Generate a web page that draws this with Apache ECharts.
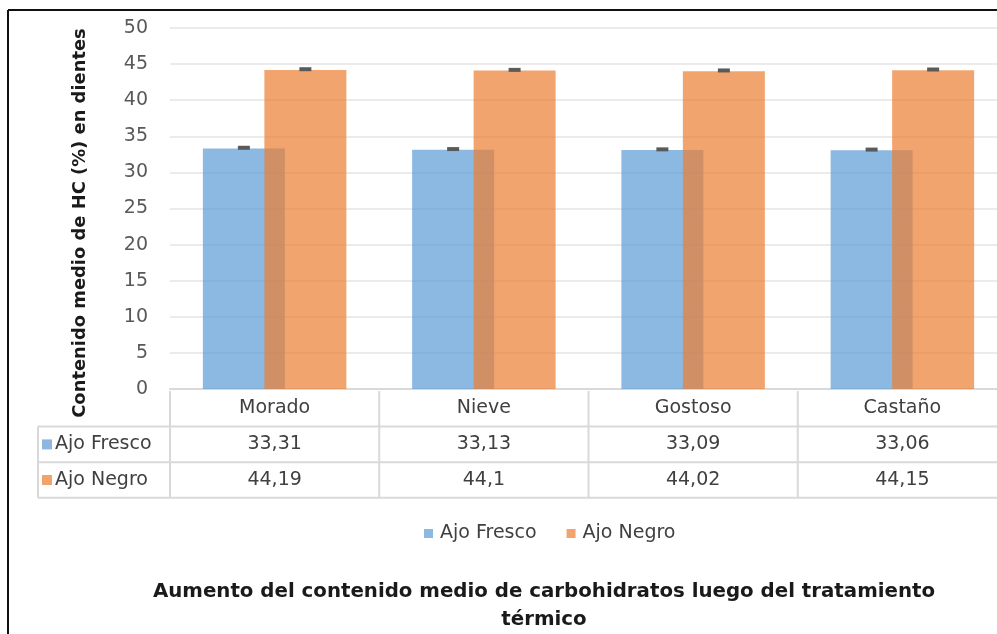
<!DOCTYPE html>
<html><head><meta charset="utf-8">
<script src="https://cdn.jsdelivr.net/npm/echarts@6/dist/echarts.min.js"></script>
<style>html,body{margin:0;padding:0;background:#fff}#c{width:997px;height:634px}</style>
</head><body><div id="c"></div>
<script>
// ---- data ----
const categories = ['Morado', 'Nieve', 'Gostoso', 'Castaño'];
const seriesNames = ['Ajo Fresco', 'Ajo Negro'];
const ajoFresco = [33.31, 33.13, 33.09, 33.06];
const ajoNegro = [44.19, 44.1, 44.02, 44.15];
const errFresco = [0.1, 0.1, 0.1, 0.1];
const errNegro = [0.1, 0.1, 0.1, 0.1];
const yMin = 0, yMax = 50, yStep = 5;
const yTitle = 'Contenido medio de HC (%) en dientes';
const chartTitle = 'Aumento del contenido medio de carbohidratos luego del tratamiento\ntérmico';

// ---- styles ----
const FONT = '"DejaVu Sans", Verdana, sans-serif';
const FS = 19;
const colFresco = 'rgba(91,155,213,0.7)';
const colNegro = 'rgba(237,125,49,0.7)';
const solidFresco = '#8DB7E1';
const solidNegro = '#F1A36C';
const BAR_W = 82;
const OVERLAP = 0.25;

const chart = echarts.init(document.getElementById('c'), null, {renderer: 'canvas'});

function capSeries(name, vals, errs, sign) {
  return {
    name: name, type: 'custom', z: 5,
    data: categories.map((c, i) => [i, vals[i], errs[i]]),
    encode: {x: 0, y: 1},
    renderItem: function (params, api) {
      const p = api.coord([api.value(0), api.value(1) + api.value(2)]);
      const off = sign * (BAR_W * (1 - OVERLAP)) / 2;
      return {type: 'rect', shape: {x: p[0] + off - 6, y: p[1] - 2, width: 12, height: 4},
              style: {fill: '#5a5a5a'}};
    },
    tooltip: {show: false}
  };
}

const option = {
  animation: false,
  backgroundColor: '#fff',
  title: {
    text: chartTitle, left: 539, top: 573, textAlign: 'center',
    textStyle: {fontFamily: FONT, fontSize: 19.8, fontWeight: 'bold', color: '#1a1a1a', lineHeight: 28}
  },
  legend: {
    data: seriesNames, left: 419, top: 519, icon: 'rect', itemWidth: 9, itemHeight: 9, itemGap: 30,
    textStyle: {fontFamily: FONT, fontSize: 19, color: '#404040', padding: [0, 0, 0, 2]}
  },
  grid: {left: 170, width: 837, top: 28, bottom: 245, containLabel: false, outerBoundsMode: 'none'},
  xAxis: {
    type: 'category', data: categories,
    axisLine: {show: true, lineStyle: {color: '#D9D9D9', width: 2}},
    axisTick: {show: false},
    axisLabel: {fontFamily: FONT, fontSize: FS, color: '#404040', margin: 10}
  },
  yAxis: {
    type: 'value', min: yMin, max: yMax, interval: yStep,
    axisLine: {show: false}, axisTick: {show: false},
    axisLabel: {fontFamily: FONT, fontSize: FS, color: '#595959', margin: 22},
    splitLine: {lineStyle: {color: '#EBEBEB', width: 2}}
  },
  series: [
    {name: seriesNames[0], type: 'bar', data: ajoFresco, barWidth: BAR_W, barGap: '-25%',
     itemStyle: {color: colFresco}},
    {name: seriesNames[1], type: 'bar', data: ajoNegro, barWidth: BAR_W,
     itemStyle: {color: colNegro}},
    capSeries('errFresco', ajoFresco, errFresco, -1),
    capSeries('errNegro', ajoNegro, errNegro, 1)
  ]
};
chart.setOption(option);

// ---- data table and frame ----
function fmt(v) { return String(v).replace('.', ','); }
const c0 = chart.convertToPixel({xAxisIndex: 0}, 0);
const c1 = chart.convertToPixel({xAxisIndex: 0}, 1);
const band = c1 - c0;
const tableLeftCol = 38;
const colStart = c0 - band / 2;
const yBase = chart.convertToPixel({yAxisIndex: 0}, 0);
const rowH = 35.6;
const r0 = yBase + 2, r1 = r0 + rowH, r2 = r1 + rowH, r3 = r2 + rowH;
const LINE = {stroke: '#D9D9D9', lineWidth: 2};
const g = [];
function hline(x1, x2, y) { g.push({type: 'line', shape: {x1: x1, y1: y, x2: x2, y2: y}, style: LINE, silent: true}); }
function vline(x, y1, y2) { g.push({type: 'line', shape: {x1: x, y1: y1, x2: x, y2: y2}, style: LINE, silent: true}); }
const rightEnd = colStart + band * categories.length;
hline(tableLeftCol, rightEnd, r1);
hline(tableLeftCol, rightEnd, r2);
hline(tableLeftCol, rightEnd, r3);
vline(tableLeftCol, r1, r3);
for (let i = 0; i <= categories.length; i++) vline(colStart + band * i, r0, r3);
const rows = [[ajoFresco, solidFresco, r1], [ajoNegro, solidNegro, r2]];
rows.forEach((r, k) => {
  const yc = r[2] + rowH / 2;
  g.push({type: 'rect', shape: {x: 42, y: yc - 5, width: 10, height: 10}, style: {fill: r[1]}, silent: true});
  g.push({type: 'text', x: 55, y: yc, style: {text: seriesNames[k], font: FS + 'px ' + FONT, fill: '#404040', textVerticalAlign: 'middle', verticalAlign: 'middle'}, silent: true});
  r[0].forEach((v, i) => {
    g.push({type: 'text', x: colStart + band * (i + 0.5), y: yc,
      style: {text: fmt(v), font: FS + 'px ' + FONT, fill: '#404040', align: 'center', textAlign: 'center', verticalAlign: 'middle', textVerticalAlign: 'middle'}, silent: true});
  });
});
// y axis title
g.push({type: 'text', x: 80, y: 223, rotation: Math.PI / 2,
  style: {text: yTitle, font: 'bold 17.9px ' + FONT, fill: '#1a1a1a', align: 'center', textAlign: 'center', verticalAlign: 'middle', textVerticalAlign: 'middle'}, silent: true});
// outer frame
g.push({type: 'line', shape: {x1: 8, y1: 10, x2: 997, y2: 10}, style: {stroke: '#111', lineWidth: 2}, silent: true});
g.push({type: 'line', shape: {x1: 8, y1: 10, x2: 8, y2: 634}, style: {stroke: '#111', lineWidth: 2}, silent: true});
chart.setOption({graphic: g});
</script></body></html>
